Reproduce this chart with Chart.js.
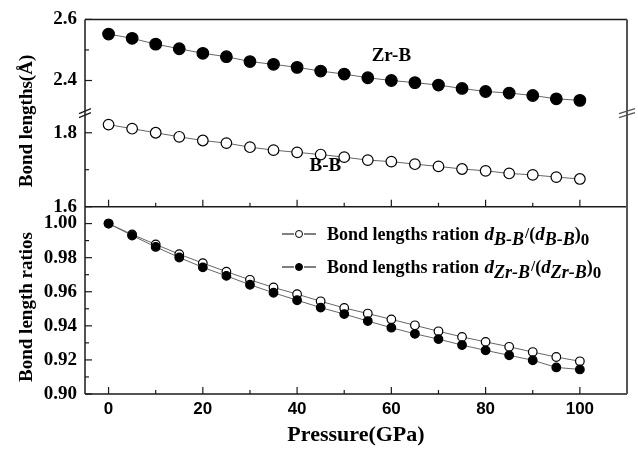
<!DOCTYPE html>
<html>
<head>
<meta charset="utf-8">
<script src="https://cdn.jsdelivr.net/npm/chart.js@4.4.0/dist/chart.umd.min.js"></script>
<style>
    html, body { margin: 0; padding: 0; background: #fff; }
</style>
</head>
<body>
<canvas id="grafico_main" width="638" height="452"></canvas>
<script>
// presion en GPa
const presion = [0, 5, 10, 15, 20, 25, 30, 35, 40, 45, 50, 55, 60, 65, 70, 75, 80, 85, 90, 95, 100]

// longitudes de enlace (Å)
const zr_b = [2.552, 2.538, 2.519, 2.504, 2.489, 2.478, 2.462, 2.453, 2.443, 2.431, 2.421,
              2.409, 2.400, 2.393, 2.385, 2.374, 2.364, 2.359, 2.351, 2.340, 2.335]
const b_b = [1.822, 1.811, 1.800, 1.789, 1.779, 1.772, 1.761, 1.753, 1.747, 1.741, 1.734,
             1.726, 1.722, 1.715, 1.709, 1.702, 1.697, 1.690, 1.686, 1.680, 1.675]

// razones d/d0
const ratio_b_b = [1.000, 0.9936, 0.9878, 0.9820, 0.9768, 0.9718, 0.9670, 0.9625, 0.9586, 0.9544, 0.9505,
                   0.9472, 0.9438, 0.9403, 0.9368, 0.9335, 0.9306, 0.9277, 0.9246, 0.9217, 0.9192]
const ratio_zr_b = [1.000, 0.9930, 0.9863, 0.9801, 0.9743, 0.9693, 0.9641, 0.9594, 0.9550, 0.9507, 0.9469,
                    0.9428, 0.9389, 0.9353, 0.9322, 0.9287, 0.9256, 0.9227, 0.9198, 0.9156, 0.9144]

// ticks
const x_ticks = [0, 20, 40, 60, 80, 100]
const x_menores = [10, 30, 50, 70, 90]
const top_ticks = [2.4, 2.6]
const top_menores = [2.5]
const mid_ticks = [1.6, 1.8]
const mid_menores = [1.7]
const ratio_ticks = [0.90, 0.92, 0.94, 0.96, 0.98, 1.00]
const ratio_menores = [0.91, 0.93, 0.95, 0.97, 0.99]

const serif = "'Liberation Serif', 'Times New Roman', serif"
const sans = "'Liberation Sans', Arial, sans-serif"


function puntos(valores){
    return presion.map((p, i) => ({x: p, y: valores[i]}))
}

function serie(valores, eje, relleno, radio, orden){
    return {
        data: puntos(valores),
        yAxisID: eje,
        borderColor: '#666',
        borderWidth: 1,
        pointRadius: radio,
        pointBackgroundColor: relleno ? '#000' : '#fff',
        pointBorderColor: '#000',
        pointBorderWidth: 1.2,
        tension: 0,
        order: orden
    }
}

function fijar_ticks(lista){
    return function(escala){
        escala.ticks = lista.map(v => ({value: v}))
    }
}

function eje_y(min, max, ticks, peso, decimales){
    return {
        type: 'linear',
        position: 'left',
        stack: 'paneles',
        stackWeight: peso,
        min: min,
        max: max,
        afterBuildTicks: fijar_ticks(ticks),
        afterFit: escala => { escala.width = 85 },
        grid: { display: false, drawTicks: false },
        border: { display: false },
        ticks: {
            autoSkip: false,
            padding: 8,
            color: '#000',
            font: { family: serif, size: 19, weight: 'bold' },
            callback: v => v.toFixed(decimales)
        }
    }
}


/*
    ||=====================================================
    || MARCO, TICKS Y TEXTOS
    ||=====================================================
*/

function linea(ctx, x1, y1, x2, y2){
    ctx.beginPath()
    ctx.moveTo(x1, y1)
    ctx.lineTo(x2, y2)
    ctx.stroke()
}

function marcas_y(ctx, escala, mayores, menores, x0){
    mayores.forEach(v => { let y = escala.getPixelForValue(v); linea(ctx, x0, y, x0 + 7, y) })
    menores.forEach(v => { let y = escala.getPixelForValue(v); linea(ctx, x0, y, x0 + 4, y) })
}

function marcas_x(ctx, escala, y0){
    x_ticks.forEach(v => { let x = escala.getPixelForValue(v); linea(ctx, x, y0, x, y0 - 7) })
    x_menores.forEach(v => { let x = escala.getPixelForValue(v); linea(ctx, x, y0, x, y0 - 4) })
}

function marca_corte(ctx, x, y, w){
    ctx.beginPath()
    for (const d of [-2, 2]) {
        ctx.moveTo(x - w, y + d + 2.5)
        ctx.lineTo(x + w, y + d - 2.5)
    }
    ctx.stroke()
}

function texto_rico(ctx, x, y, partes){
    partes.forEach(p => {
        ctx.font = p[1]
        ctx.fillText(p[0], x, y + (p[2] || 0))
        x += ctx.measureText(p[0]).width + (p[3] || 0)
    })
}

const marco_plugin = {
    id: 'marco',
    afterDraw(chart){
        const ctx = chart.ctx
        const area = chart.chartArea
        const s = chart.scales
        const corte = s.yTop.bottom
        const separador = s.yRatio.top
        ctx.save()
        ctx.strokeStyle = '#1a1a1a'
        ctx.lineWidth = 1.5
        linea(ctx, area.left, area.top, area.left, area.bottom)
        linea(ctx, area.left, area.top, area.right, area.top)
        linea(ctx, area.left, area.bottom, area.right, area.bottom)
        linea(ctx, area.left, separador, area.right, separador)
        ctx.strokeStyle = '#555'
        ctx.lineWidth = 2
        linea(ctx, area.right, area.top, area.right, area.bottom)

        ctx.strokeStyle = '#1a1a1a'
        ctx.lineWidth = 1.2
        marcas_y(ctx, s.yTop, top_ticks, top_menores, area.left)
        marcas_y(ctx, s.yMid, mid_ticks, mid_menores, area.left)
        marcas_y(ctx, s.yRatio, ratio_ticks, ratio_menores, area.left)
        marcas_x(ctx, s.x, separador)
        marcas_x(ctx, s.x, area.bottom)

        ctx.lineWidth = 1.3
        marca_corte(ctx, area.left, corte, 6)
        ctx.strokeStyle = '#555'
        marca_corte(ctx, area.right, corte, 8)

        // titulos de los ejes y
        ctx.fillStyle = '#000'
        ctx.textAlign = 'center'
        ctx.textBaseline = 'middle'
        ctx.font = `bold 19px ${serif}`
        ctx.save()
        ctx.translate(27, 121)
        ctx.rotate(-Math.PI / 2)
        ctx.fillText('Bond lengths(Å)', 0, 0)
        ctx.restore()
        ctx.save()
        ctx.translate(27, 307)
        ctx.rotate(-Math.PI / 2)
        ctx.fillText('Bond length ratios', 0, 0)
        ctx.restore()

        // etiquetas de las curvas
        ctx.fillText('Zr-B', s.x.getPixelForValue(60), s.yTop.getPixelForValue(2.48))
        ctx.fillText('B-B', s.x.getPixelForValue(46), s.yMid.getPixelForValue(1.7085))

        // leyenda
        const f_main = `bold 18px ${serif}`
        const f_ital = `italic bold 19px ${serif}`
        const f_sub = `italic bold 18px ${serif}`
        const f_cero = `bold 17px ${serif}`
        const f_barra = `bold 15px ${serif}`
        let filas = [
            {y: 234, relleno: false, nombre: 'B-B'},
            {y: 267, relleno: true, nombre: 'Zr-B'}
        ]
        ctx.textAlign = 'left'
        ctx.textBaseline = 'alphabetic'
        filas.forEach(f => {
            ctx.strokeStyle = '#000'
            ctx.lineWidth = 1
            linea(ctx, 282, f.y, 294, f.y)
            linea(ctx, 304, f.y, 316, f.y)
            ctx.beginPath()
            ctx.arc(299, f.y, 3.5, 0, Math.PI * 2)
            ctx.fillStyle = f.relleno ? '#000' : '#fff'
            ctx.fill()
            ctx.stroke()
            ctx.fillStyle = '#000'
            texto_rico(ctx, 327, f.y + 6, [
                ['Bond lengths ration ', f_main, 0, 1],
                ['d', f_ital],
                [f.nombre, f_sub, 5, 1],
                ['/', f_barra, -2],
                ['(', f_main],
                ['d', f_ital],
                [f.nombre, f_sub, 5],
                [')', f_main],
                ['0', f_cero, 5]
            ])
        })
        ctx.restore()
    }
}


/*
    ||=====================================================
    || DISPLAY CHART
    ||=====================================================
*/

// los ejes apilados a la izquierda se colocan de abajo hacia arriba
const configuracion = {
    type: 'line',
    data: {
        datasets: [
            serie(zr_b, 'yTop', true, 5.8, 0),
            serie(b_b, 'yMid', false, 5.3, 1),
            serie(ratio_zr_b, 'yRatio', true, 4.3, 2),
            serie(ratio_b_b, 'yRatio', false, 4.3, 3)
        ]
    },
    options: {
        responsive: false,
        animation: false,
        layout: { padding: { left: 0, right: 11, top: 16, bottom: 0 } },
        plugins: {
            legend: { display: false },
            tooltip: { enabled: false }
        },
        scales: {
            x: {
                type: 'linear',
                min: -5,
                max: 110,
                afterBuildTicks: fijar_ticks(x_ticks),
                afterFit: escala => { escala.height = 58 },
                grid: { display: false, drawTicks: false },
                border: { display: false },
                ticks: {
                    autoSkip: false,
                    maxRotation: 0,
                    padding: 5,
                    color: '#000',
                    font: { family: sans, size: 17, weight: 'bold' }
                },
                title: {
                    display: true,
                    text: 'Pressure(GPa)',
                    color: '#000',
                    font: { family: serif, size: 22, weight: 'bold' },
                    padding: { top: 0, bottom: 3 }
                }
            },
            yRatio: eje_y(0.90, 1.0099, ratio_ticks, 2, 2),
            yMid: eje_y(1.6, 1.8533, mid_ticks, 1, 1),
            yTop: eje_y(2.2935, 2.6, top_ticks, 1, 1)
        }
    },
    plugins: [marco_plugin]
}

var ctx = document.getElementById('grafico_main').getContext('2d')
var grafico_main = new Chart(ctx, configuracion)
</script>
</body>
</html>
